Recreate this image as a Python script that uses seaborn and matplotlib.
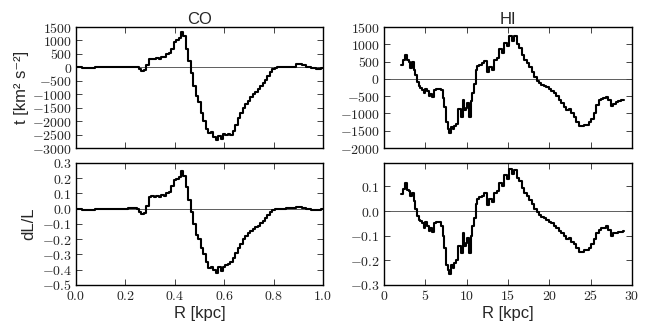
"""
Torque and fractional angular momentum change vs radius, CO and HI.
"""

import matplotlib
matplotlib.use("Agg")
import matplotlib.pyplot as plt
import seaborn as sns

# ---- CO (inner disk, kpc) ----
co_r = [0.00, 0.05, 0.10, 0.15, 0.20, 0.22, 0.24, 0.25, 0.26, 0.27, 0.28, 0.29,
        0.30, 0.31, 0.32, 0.33, 0.34, 0.35, 0.36, 0.37, 0.38, 0.39, 0.40, 0.41,
        0.42, 0.43, 0.44, 0.45, 0.46, 0.47, 0.48, 0.49, 0.50, 0.51, 0.52, 0.53,
        0.54, 0.55, 0.56, 0.57, 0.58, 0.59, 0.60, 0.61, 0.62, 0.63, 0.64, 0.65,
        0.66, 0.67, 0.68, 0.69, 0.70, 0.71, 0.72, 0.73, 0.74, 0.75, 0.76, 0.77,
        0.78, 0.79, 0.80, 0.81, 0.82, 0.84, 0.86, 0.88, 0.90, 0.91, 0.92, 0.94,
        0.96, 0.98, 1.00]
co_t = [0, -10, 0, 0, 0, 10, 30, 20, -60, -120, -90, 80,
        300, 310, 300, 350, 320, 400, 380, 480, 520, 700, 950, 1000,
        1100, 1300, 1150, 700, 250, -200, -700, -1050, -1300, -1700, -2000, -2300,
        -2450, -2400, -2600, -2700, -2550, -2680, -2480, -2500, -2470, -2520, -2350, -2150,
        -1900, -1700, -1500, -1380, -1250, -1120, -1000, -900, -820, -700, -580, -480,
        -330, -180, -60, -10, 0, 0, 5, 20, 110, 110, 80, 10,
        -40, -70, -10]
co_dl = [0.0, -0.005, 0.0, 0.0, 0.0, 0.002, 0.005, 0.0, -0.02, -0.035, -0.03, 0.02,
         0.08, 0.085, 0.075, 0.085, 0.075, 0.09, 0.085, 0.10, 0.11, 0.15, 0.19, 0.195,
         0.21, 0.245, 0.215, 0.14, 0.06, -0.02, -0.10, -0.17, -0.20, -0.26, -0.30, -0.35,
         -0.39, -0.38, -0.40, -0.42, -0.38, -0.41, -0.38, -0.37, -0.36, -0.35, -0.32, -0.29,
         -0.26, -0.23, -0.20, -0.18, -0.16, -0.145, -0.135, -0.12, -0.11, -0.095, -0.08, -0.06,
         -0.04, -0.02, -0.01, 0.0, 0.0, 0.0, 0.002, 0.005, 0.012, 0.012, 0.008, 0.0,
         -0.005, -0.008, 0.0]

# ---- HI (outer disk, kpc) ----
hi_r = [2.1, 2.4, 2.7, 2.9, 3.1, 3.3, 3.5, 3.7, 3.9, 4.1, 4.3, 4.5, 4.7, 4.9,
        5.1, 5.3, 5.5, 5.7, 5.9, 6.1, 6.4, 6.7, 7.0, 7.2, 7.4, 7.6, 7.8, 8.0,
        8.2, 8.4, 8.6, 8.8, 9.0, 9.2, 9.4, 9.6, 9.8, 10.0, 10.2, 10.4, 10.6, 10.8,
        11.0, 11.2, 11.4, 11.7, 12.0, 12.3, 12.6, 12.9, 13.2, 13.5, 13.8, 14.1,
        14.4, 14.7, 15.0, 15.3, 15.6, 15.9, 16.2, 16.5, 16.8, 17.1, 17.4, 17.7,
        18.0, 18.3, 18.6, 18.9, 19.2, 19.5, 19.8, 20.1, 20.4, 20.7, 21.0, 21.3,
        21.6, 21.9, 22.2, 22.5, 22.8, 23.1, 23.4, 23.7, 24.0, 24.3, 24.6, 24.9,
        25.2, 25.5, 25.8, 26.1, 26.4, 26.7, 27.0, 27.3, 27.6, 27.9, 28.2, 28.5,
        28.8, 29.0]
hi_t = [400, 550, 700, 550, 500, 300, 480, 250, 100, -100, -200, -250, -330, -420,
        -280, -350, -500, -450, -520, -330, -280, -280, -330, -550, -800, -1250, -1450, -1580,
        -1400, -1450, -1350, -1300, -880, -880, -1100, -600, -900, -850, -700, -1100, -650, -400,
        -150, 250, 380, 400, 450, 520, 200, 350, 250, 550, 600, 850,
        750, 1050, 950, 1250, 1100, 1250, 1000, 900, 700, 550, 450, 350,
        200, 50, -50, -120, -180, -200, -230, -300, -350, -420, -500, -600,
        -700, -800, -900, -880, -1000, -1100, -1250, -1350, -1360, -1330, -1320, -1250,
        -1150, -1000, -750, -600, -580, -550, -520, -600, -780, -720, -680, -640,
        -620, -610]
hi_dl = [0.07, 0.09, 0.115, 0.085, 0.08, 0.06, 0.075, 0.04, 0.01, -0.02, -0.035, -0.04, -0.05, -0.07,
         -0.045, -0.06, -0.08, -0.07, -0.085, -0.05, -0.045, -0.045, -0.06, -0.10, -0.15, -0.22, -0.24, -0.255,
         -0.22, -0.23, -0.21, -0.20, -0.14, -0.14, -0.17, -0.09, -0.14, -0.13, -0.11, -0.17, -0.10, -0.06,
         -0.03, 0.03, 0.05, 0.055, 0.06, 0.075, 0.025, 0.05, 0.035, 0.075, 0.08, 0.115,
         0.10, 0.145, 0.13, 0.17, 0.15, 0.165, 0.135, 0.12, 0.095, 0.075, 0.06, 0.045,
         0.03, 0.01, -0.005, -0.015, -0.025, -0.03, -0.035, -0.045, -0.05, -0.06, -0.07, -0.08,
         -0.09, -0.10, -0.115, -0.11, -0.125, -0.135, -0.15, -0.165, -0.165, -0.16, -0.16, -0.15,
         -0.135, -0.115, -0.09, -0.075, -0.07, -0.067, -0.062, -0.075, -0.10, -0.09, -0.09, -0.085,
         -0.083, -0.082]

# ---- axis ticks ----
co_xticks = [0.0, 0.2, 0.4, 0.6, 0.8, 1.0]
hi_xticks = [0, 5, 10, 15, 20, 25, 30]
t_yticks = [1500, 1000, 500, 0, -500, -1000, -1500, -2000, -2500, -3000]
hi_t_yticks = [1500, 1000, 500, 0, -500, -1000, -1500, -2000]
co_dl_yticks = [0.3, 0.2, 0.1, 0.0, -0.1, -0.2, -0.3, -0.4, -0.5]
hi_dl_yticks = [0.1, 0.0, -0.1, -0.2, -0.3]

sns.set_style("ticks")
plt.rcParams.update({
    "mathtext.fontset": "cm",
    "xtick.direction": "in", "ytick.direction": "in",
    "xtick.top": True, "ytick.right": True,
    "xtick.major.size": 4, "ytick.major.size": 4,
    "xtick.major.width": 0.6, "ytick.major.width": 0.6,
    "axes.linewidth": 1.0, "axes.edgecolor": "black",
})
SANS = ["Liberation Sans", "DejaVu Sans"]


def mlabels(vals, fmt):
    return ["$" + fmt.format(v) + "$" for v in vals]


def panel(ax, r, y, xlim, ylim, xticks, yticks, xfmt, yfmt, show_x):
    ax.axhline(0, color="#444444", lw=0.6, zorder=1)
    sns.lineplot(x=r, y=y, ax=ax, color="black", lw=1.5, estimator=None,
                 drawstyle="steps-mid", zorder=2)
    ax.set_xlim(*xlim)
    ax.set_ylim(*ylim)
    ax.set_xticks(xticks, labels=mlabels(xticks, xfmt) if show_x else [])
    ax.set_yticks(yticks, labels=mlabels(yticks, yfmt))
    ax.tick_params(labelsize=10, pad=3)
    ax.set_xlabel("")
    ax.set_ylabel("")


fig = plt.figure(figsize=(6.47, 3.36), dpi=100)
ax_co_t = fig.add_axes([0.1175, 0.5595, 0.3818, 0.3601])
ax_hi_t = fig.add_axes([0.5935, 0.5595, 0.3833, 0.3601])
ax_co_dl = fig.add_axes([0.1175, 0.1518, 0.3818, 0.3631])
ax_hi_dl = fig.add_axes([0.5935, 0.1518, 0.3833, 0.3631])

panel(ax_co_t, co_r, co_t, (0, 1), (-3000, 1500), co_xticks, t_yticks, "{:.1f}", "{:d}", False)
panel(ax_hi_t, hi_r, hi_t, (0, 30), (-2000, 1500), hi_xticks, hi_t_yticks, "{:d}", "{:d}", False)
panel(ax_co_dl, co_r, co_dl, (0, 1), (-0.5, 0.3), co_xticks, co_dl_yticks, "{:.1f}", "{:.1f}", True)
panel(ax_hi_dl, hi_r, hi_dl, (0, 30), (-0.3, 0.195), hi_xticks, hi_dl_yticks, "{:d}", "{:.1f}", True)

ax_co_t.set_title("CO", fontsize=12, family=SANS, pad=2)
ax_hi_t.set_title("HI", fontsize=12, family=SANS, pad=2)
ax_co_t.set_ylabel("t [km² s⁻²]", fontsize=12, family=SANS, labelpad=2)
ax_co_dl.set_ylabel("dL/L", fontsize=12, family=SANS, labelpad=4)
ax_co_dl.set_xlabel("R [kpc]", fontsize=12, family=SANS, labelpad=2)
ax_hi_dl.set_xlabel("R [kpc]", fontsize=12, family=SANS, labelpad=2)

plt.savefig("out.png", dpi=100)
plt.close()
